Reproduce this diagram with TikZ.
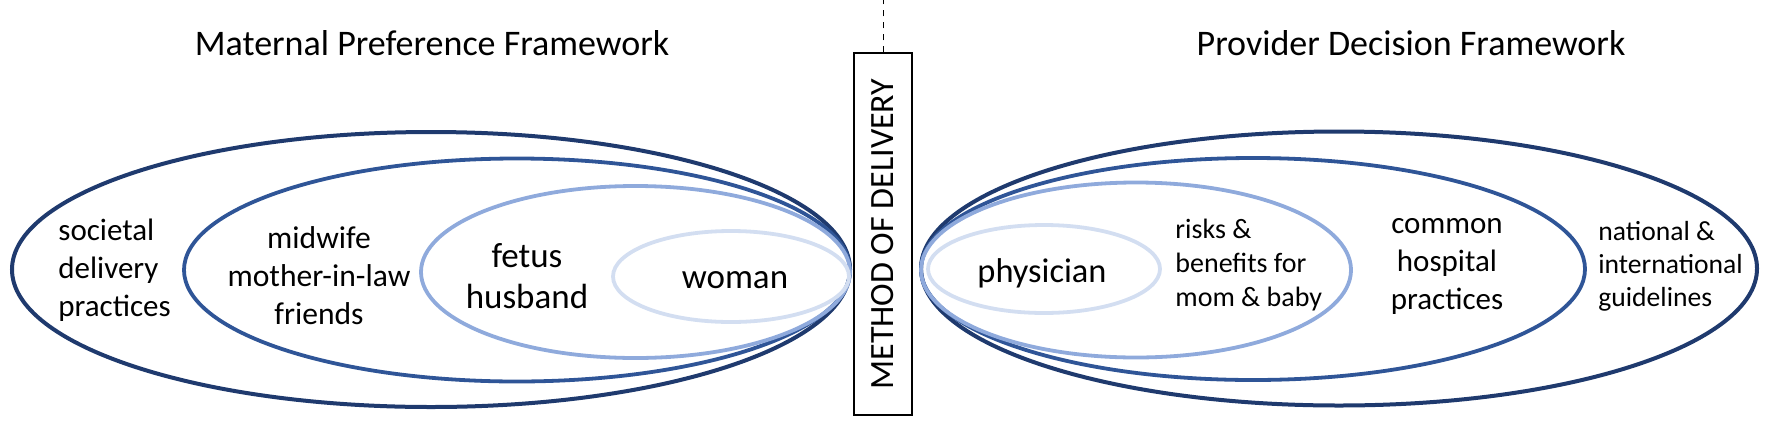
\documentclass[tikz,border=0pt]{standalone}
\usepackage{fontspec}
\setmainfont{Carlito}
\definecolor{navy}{HTML}{1F3A6E}
\definecolor{midblue}{HTML}{2F5597}
\definecolor{lightblue}{HTML}{8FAADC}
\definecolor{paleblue}{HTML}{D3DEF1}
\tikzset{
  ringA/.style={draw=navy, line width=2pt},
  ringB/.style={draw=midblue, line width=1.9pt},
  ringC/.style={draw=lightblue, line width=1.9pt},
  ringD/.style={draw=paleblue, line width=1.9pt},
  lbl/.style={inner sep=0pt, align=center},
  lblL/.style={inner sep=0pt, align=left},
  ttl/.style={inner sep=0pt, font=\fontsize{18}{22}\selectfont},
}
\begin{document}
\begin{tikzpicture}[x={(0.5pt,0)}, y={(0,-0.5pt)}]
\useasboundingbox (0,0) rectangle (1770,429);
% left framework
\draw[ringA] (431,269.5) ellipse [x radius=419, y radius=137.5];
\draw[ringB] (517,270) ellipse [x radius=333, y radius=111.5];
\draw[ringC] (635.5,272) ellipse [x radius=214.5, y radius=86];
\draw[ringD] (731,276.5) ellipse [x radius=118, y radius=45.5];
% right framework
\draw[ringA] (1339,268.5) ellipse [x radius=418, y radius=137];
\draw[ringB] (1253,269) ellipse [x radius=332, y radius=111];
\draw[ringC] (1136,270) ellipse [x radius=215, y radius=87.5];
\draw[ringD] (1044,269) ellipse [x radius=116, y radius=44];
% titles
\node[ttl] (t1) at (432,43) {Maternal Preference Framework};
\node[ttl] (t2) at (1411,43) {Provider Decision Framework};
% center box
\node[draw=black, line width=0.6pt, rotate=90, minimum width=181pt, minimum height=29pt, inner sep=0pt,
      font=\fontsize{17}{20}\selectfont] (mod) at (883,234) {METHOD OF DELIVERY};
\coordinate (topend) at (883,0);
\draw[dashed, line width=0.4pt] (mod.east) -- (topend);
% left labels
\node[lblL, font=\fontsize{15.5}{19}\selectfont, anchor=west] (soc) at (58,270) {societal\\delivery\\practices};
\node[lbl, font=\fontsize{15.8}{19}\selectfont] (mid) at (319,276) {midwife\\mother-in-law\\friends};
\node[lbl, font=\fontsize{17.5}{20.5}\selectfont] (fet) at (527,276) {fetus\\husband};
\node[lbl, font=\fontsize{17.5}{21}\selectfont] (wom) at (735,280) {woman};
% right labels
\node[lbl, font=\fontsize{17.2}{21}\selectfont] (phy) at (1042,273) {physician};
\node[lblL, font=\fontsize{14}{16.8}\selectfont, anchor=west] (risk) at (1175,265) {risks \&\\benefits for\\mom \& baby};
\node[lbl, font=\fontsize{15.5}{19}\selectfont] (com) at (1447,266) {common\\hospital\\practices};
\node[lblL, font=\fontsize{13.8}{16.5}\selectfont, anchor=west] (nat) at (1598,266) {national \&\\international\\guidelines};
\end{tikzpicture}
\end{document}
